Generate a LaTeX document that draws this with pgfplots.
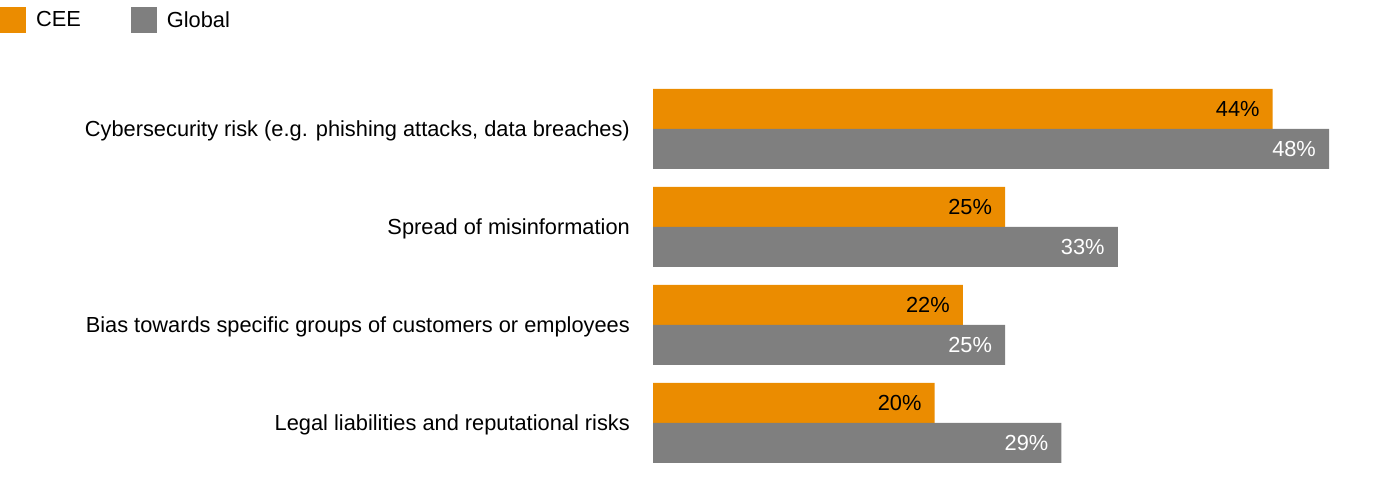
\documentclass[border=0pt]{standalone}
\usepackage{pgfplots}
\pgfplotsset{compat=1.18}
\usepackage{fontspec}
\setmainfont{Liberation Sans}
\definecolor{cee}{RGB}{235,140,0}
\definecolor{glob}{RGB}{127,127,127}
\newcommand{\ff}{\fontsize{21.8bp}{26bp}\selectfont}
\begin{document}
\begin{tikzpicture}
\begin{axis}[
  at={(653bp,24bp)}, anchor=south west,
  scale only axis,
  width=704.25bp, height=392bp,
  xmin=0, xmax=50, ymin=-0.5, ymax=3.5,
  xbar, bar width=40bp,
  axis line style={draw=none},
  major tick length=0pt,
  xtick=\empty,
  ytick={0,1,2,3},
  yticklabels={Legal liabilities and reputational risks,Bias towards specific groups of customers or employees,Spread of misinformation,Cybersecurity risk (e.g. phishing attacks{,} data breaches)},
  yticklabel style={font=\ff, inner sep=0pt, xshift=-23bp, yshift=-2bp},
  font=\ff,
  point meta=x,
  nodes near coords={\pgfmathprintnumber[assume math mode=true]{\pgfplotspointmeta}\%},
  nodes near coords style={anchor=east, inner sep=0pt, xshift=-13bp, font=\ff},
  legend columns=2,
  legend style={draw=none, fill=none, at={(-0.9272,1.186)}, anchor=north west, inner sep=0pt, outer sep=0pt,
    nodes={inner sep=0pt, font=\ff},
    /tikz/every odd column/.append style={column sep=10bp},
    /tikz/every even column/.append style={column sep=50bp}},
  legend image code/.code={\fill[#1] (0bp,-13bp) rectangle (26bp,13bp);},
]
\addplot[fill=cee, draw=none, bar shift=20bp, nodes near coords style={text=black}] coordinates {(20,0) (22,1) (25,2) (44,3)};
\addlegendentry{CEE}
\addplot[fill=glob, draw=none, bar shift=-20bp, nodes near coords style={text=white}] coordinates {(29,0) (25,1) (33,2) (48,3)};
\addlegendentry{Global}
\end{axis}
\pgfresetboundingbox
\path[use as bounding box] (0,0) rectangle (1380bp,496bp);
\end{tikzpicture}
\end{document}
